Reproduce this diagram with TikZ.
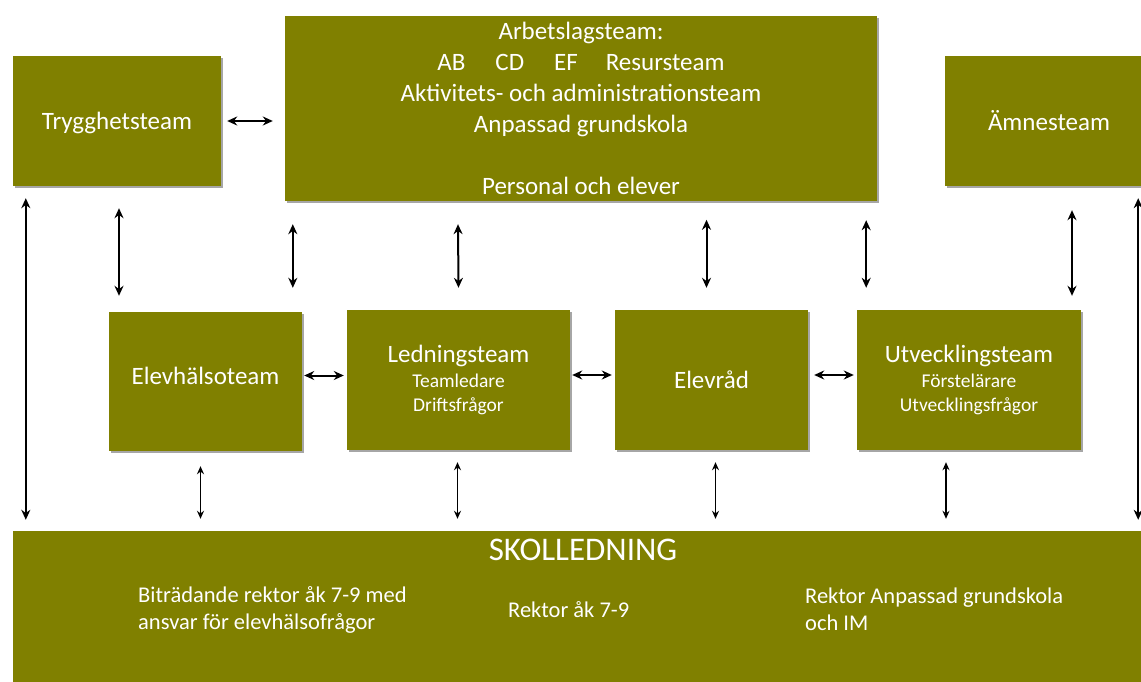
\documentclass[tikz,border=0pt]{standalone}
\usepackage{fontspec}
\setmainfont{Carlito}
\usetikzlibrary{calc,arrows.meta,shadows}
\definecolor{boxolive}{HTML}{808000}
\tikzset{
  box/.style={fill=boxolive, draw=none, text=white, inner sep=0pt, align=center,
    font=\fontsize{25}{31}\selectfont,
    drop shadow={opacity=0.35, shadow xshift=2pt, shadow yshift=-2pt, fill=black}},
  btext/.style={text=white, inner sep=0pt, align=left, anchor=west, font=\fontsize{22.5}{27}\selectfont},
  arr/.style={{Stealth[length=10pt,width=9pt]}-{Stealth[length=10pt,width=9pt]}, line width=2pt},
  arrthin/.style={{Stealth[length=8pt,width=7pt]}-{Stealth[length=8pt,width=7pt]}, line width=1.5pt},
}
\newcommand{\subline}[1]{{\fontsize{19.5}{24}\selectfont #1}}
\begin{document}
\begin{tikzpicture}[x=1pt,y=-1pt]
\useasboundingbox (0,0) rectangle (1141,682);
% top row
\node[box, minimum width=208pt, minimum height=130pt] (tryg) at (117,121) {\raisebox{0pt}[\height][0pt]{Trygghetsteam}};
\node[box, minimum width=592pt, minimum height=185pt] (top) at (581,108.5)
  {Arbetslagsteam:\\AB\hspace{30pt}CD\hspace{30pt}EF\hspace{28pt}Resursteam\\Aktivitets- och administrationsteam\\Anpassad grundskola\\[31pt]Personal och elever};
\node[box, minimum width=196pt, minimum height=130pt] (amne) at (1043,121) {\hspace{12pt}Ämnesteam};
% middle row
\node[box, minimum width=193pt, minimum height=139pt] (elevh) at (205.5,381.5) {\raisebox{11pt}{Elevhälsoteam}};
\node[box, minimum width=223pt, minimum height=140pt] (led) at (458.5,380)
  {Ledningsteam\\[-6pt]\subline{Teamledare}\\[-7pt]\subline{Driftsfrågor}};
\node[box, minimum width=193pt, minimum height=140pt] (elevrad) at (711.5,380) {Elevråd};
\node[box, minimum width=224pt, minimum height=140pt] (utv) at (969,380)
  {Utvecklingsteam\\[-6pt]\subline{Förstelärare}\\[-7pt]\subline{Utvecklingsfrågor}};
% bottom
\node[box, minimum width=1128pt, minimum height=151pt] (bottom) at (577,606.5) {};
\node[text=white, inner sep=0pt, font=\fontsize{33}{36}\selectfont] (skol) at (583,550) {SKOLLEDNING};
\node[btext] (bitr) at (138,610) {Biträdande rektor åk 7-9 med\\ansvar för elevhälsofrågor};
\node[btext] (rekt) at (508,610) {Rektor åk 7-9};
\node[btext] (rekta) at (805,609) {Rektor Anpassad grundskola\\och IM};
% horizontal arrows
\draw[arr, line width=2.4pt] ($(tryg.east)+(6,0)$) -- ($(top.west |- tryg.east)+(-12,0)$);
\draw[arr] ($(elevh.east)+(2,-6)$) -- ($(led.west |- elevh.east)+(-3,-6)$);
\draw[arr] ($(led.east)+(2,-5)$) -- ($(elevrad.west)+(-3,-5)$);
\draw[arr] ($(elevrad.east)+(6,-5)$) -- ($(utv.west)+(-3,-5)$);
% vertical arrows upper
\draw[arr] ($(tryg.south)+(2,22)$) -- ($(tryg.south |- elevh.north)+(2,-16)$);
\draw[arr] ($(top.south west)+(8,23)$) -- ($(top.south west |- led.north)+(8,-22)$);
\draw[arr] ($(top.south)+(-123,23)$) -- ($(led.north)+(0,-22)$);
\draw[arr] ($(elevrad.north)+(-5,-90)$) -- ($(elevrad.north)+(-5,-22)$);
\draw[arr] ($(top.south east)+(-11,19)$) -- ($(top.south east |- utv.north)+(-11,-22)$);
\draw[arr] ($(amne.south)+(29,24)$) -- ($(amne.south |- utv.north)+(29,-14)$);
% long arrows
\draw[arr, line width=1.8pt] ($(tryg.south west)+(13,12)$) -- ($(tryg.south west |- bottom.north)+(13,-11)$);
\draw[arr, line width=1.8pt] ($(amne.south east)+(-3,12)$) -- ($(amne.south east |- bottom.north)+(-3,-11)$);
% vertical arrows lower
\draw[arrthin] ($(elevh.south)+(-5,15)$) -- ($(elevh.south |- bottom.north)+(-5,-12)$);
\draw[arrthin] ($(led.south)+(-1,12)$) -- ($(led.south |- bottom.north)+(-1,-12)$);
\draw[arrthin] ($(elevrad.south)+(4,12)$) -- ($(elevrad.south |- bottom.north)+(4,-12)$);
\draw[arrthin] ($(utv.south)+(-23,12)$) -- ($(utv.south |- bottom.north)+(-23,-12)$);
\end{tikzpicture}
\end{document}
